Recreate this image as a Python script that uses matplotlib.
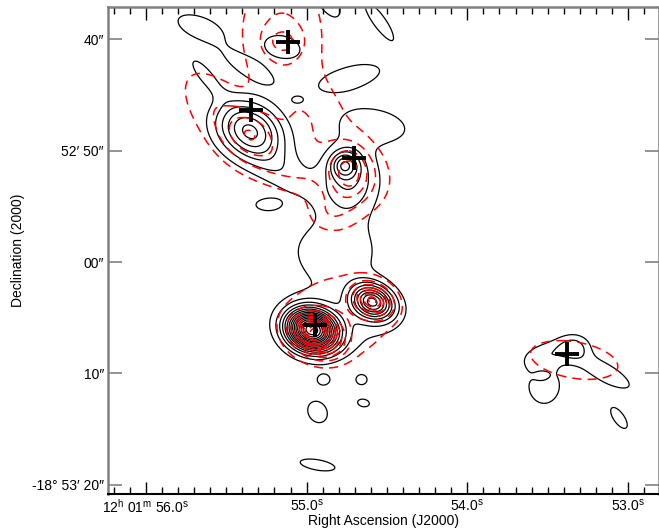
import numpy as np
import matplotlib
matplotlib.use("Agg")
import matplotlib.pyplot as plt

plt.rcParams['font.family'] = ['Liberation Sans', 'DejaVu Sans']
plt.rcParams['mathtext.fontset'] = 'custom'
plt.rcParams['mathtext.rm'] = 'Liberation Sans'

# RA in seconds of 12h01m, Dec in arcsec past -18d52m00s (larger = further south)
# gaussian components of the solid-contour map: ra, dec, peak, sigma major/minor ("), pa (deg)
black_ra = [54.969, 54.590, 54.764, 54.733, 55.354, 55.149, 55.665, 55.354, 54.547,
            54.733, 55.168, 54.826, 54.764, 54.578, 54.888, 55.634,
            54.894, 54.658, 54.932, 54.646, 54.932, 55.248, 55.056,
            53.335, 53.149, 53.522, 53.534, 53.522, 53.056]
black_dec = [66.10, 63.58, 51.28, 52.63, 48.14, 40.69, 38.90, 42.58, 38.40,
             43.47, 51.73, 58.91, 65.20, 47.69, 36.00, 43.20,
             70.58, 70.58, 73.46, 72.65, 78.21, 54.87, 45.45,
             67.60, 69.87, 71.03, 70.22, 68.34, 74.00]
black_peak = [16.0, 8.5, 4.0, 3.0, 6.0, 1.6, 1.5, 1.5, 1.5,
              1.6, 1.5, 1.7, 1.3, 1.7, 1.5, 1.4,
              1.3, 1.3, 1.5, 1.3, 1.35, 1.3, 1.1,
              2.1, 1.6, 1.6, -0.8, 1.4, 1.35]
black_smaj = [1.5, 1.3, 0.8, 2.2, 2.1, 1.6, 2.2, 2.4, 2.2,
              2.8, 3.0, 3.0, 4.0, 2.6, 2.5, 1.8,
              0.6, 0.55, 1.1, 0.7, 2.0, 1.2, 0.4,
              1.0, 2.6, 1.4, 0.6, 1.5, 1.4]
black_smin = [1.2, 1.0, 0.8, 1.8, 1.6, 1.0, 1.0, 0.8, 0.6,
              1.0, 1.3, 2.2, 2.5, 1.3, 1.0, 0.6,
              0.5, 0.5, 0.9, 0.45, 0.6, 0.6, 0.25,
              0.8, 0.8, 1.7, 0.5, 0.8, 0.6]
black_pa = [20, 25, 0, 90, 30, 15, 20, 30, 55,
            -15, 35, 0, 0, 10, 60, 50,
            0, 0, 60, 10, 10, 0, 0,
            0, 30, 0, 0, -15, 55]

# dashed-contour map
red_ra = [54.932, 54.590, 54.807, 54.733, 55.354, 55.149, 55.155, 55.571, 55.168,
          54.671, 54.857, 55.012, 53.335]
red_dec = [66.54, 63.40, 65.02, 51.91, 48.32, 40.24, 39.20, 46.35, 51.28,
           52.63, 55.76, 47.69, 68.79]
red_peak = [11.0, 6.0, 1.8, 2.6, 2.2, 1.3, 2.1, 1.7, 1.6,
            1.6, 1.3, 1.8, 1.8]
red_smaj = [1.3, 1.1, 4.4, 1.8, 1.6, 1.2, 4.0, 3.5, 3.5,
            2.5, 1.5, 3.0, 3.6]
red_smin = [1.0, 0.85, 3.3, 1.3, 1.3, 1.0, 2.8, 1.8, 1.6,
            2.5, 1.2, 3.0, 1.5]
red_pa = [30, 30, -15, 90, 40, 0, 90, 55, 20,
          0, 0, 0, 10]

black_levels = np.arange(1, 17)
red_levels = np.arange(1, 12)

# marked positions
cross_ra = [55.118, 55.348, 54.702, 54.950, 53.379]
cross_dec = [40.24, 46.35, 50.66, 65.65, 68.25]

xticks_major = [56.0, 55.0, 54.0, 53.0]
xtick_labels = [r'12$^{\mathrm{h}}$ 01$^{\mathrm{m}}$ 56.0$^{\mathrm{s}}$',
                r'55.0$^{\mathrm{s}}$', r'54.0$^{\mathrm{s}}$', r'53.0$^{\mathrm{s}}$']
yticks = [40, 50, 60, 70, 80]
ytick_labels = ['40\u2033', '52\u2032 50\u2033', '00\u2033', '10\u2033',
                '-18\u00b0 53\u2032 20\u2033']

ARCSEC_PER_SEC = 14.19


def build_map(RA, DEC, ras, decs, peaks, smaj, smin, pa):
    img = np.zeros_like(RA)
    for r, d, p, a, b, t in zip(ras, decs, peaks, smaj, smin, pa):
        u = (r - RA) * ARCSEC_PER_SEC
        v = DEC - d
        th = np.deg2rad(t)
        uu = u * np.cos(th) + v * np.sin(th)
        vv = -u * np.sin(th) + v * np.cos(th)
        img += p * np.exp(-0.5 * ((uu / a) ** 2 + (vv / b) ** 2))
    return img


if __name__ == "__main__":
    fig = plt.figure(figsize=(6.59, 5.31), dpi=100)
    ax = fig.add_axes([108 / 659, 1 - 493.7 / 531, 551 / 659, 487.2 / 531])

    ra = np.linspace(52.7, 56.3, 900)
    dec = np.linspace(35.0, 81.5, 800)
    RA, DEC = np.meshgrid(ra, dec)

    bmap = build_map(RA, DEC, black_ra, black_dec, black_peak, black_smaj, black_smin, black_pa)
    rmap = build_map(RA, DEC, red_ra, red_dec, red_peak, red_smaj, red_smin, red_pa)

    ax.contour(RA, DEC, bmap, levels=black_levels, colors='black', linewidths=0.9)
    ax.contour(RA, DEC, rmap, levels=red_levels, colors='red', linewidths=1.1,
               linestyles=[(0, (6, 4))])

    ax.plot(cross_ra, cross_dec, ls='none', marker='+', ms=17, mew=2.8, color='black')

    ax.set_xlim(56.236, 52.807)
    ax.set_ylim(80.79, 37.06)

    ax.set_xticks(xticks_major)
    ax.set_xticklabels(xtick_labels, fontsize=10)
    ax.set_xticks(np.arange(52.9, 56.25, 0.1), minor=True)
    ax.set_yticks(yticks)
    ax.set_yticklabels(ytick_labels, fontsize=10)

    ax.tick_params(axis='x', which='major', direction='in', length=9, width=1,
                   top=True, pad=3, color='black')
    ax.tick_params(axis='x', which='minor', direction='in', length=5, width=1,
                   top=True, color='black')
    ax.tick_params(axis='y', which='major', direction='in', length=10, width=1.2,
                   right=True, pad=3, color='#808080')

    for side in ['left', 'top', 'right']:
        ax.spines[side].set_color('#808080')
        ax.spines[side].set_linewidth(1.8)
    ax.spines['bottom'].set_color('black')
    ax.spines['bottom'].set_linewidth(1.5)

    ax.set_xlabel('Right Ascension (J2000)', fontsize=10, labelpad=-1)
    ax.set_ylabel('Declination (2000)', fontsize=10, labelpad=5)

    fig.savefig("out.png", dpi=100)
